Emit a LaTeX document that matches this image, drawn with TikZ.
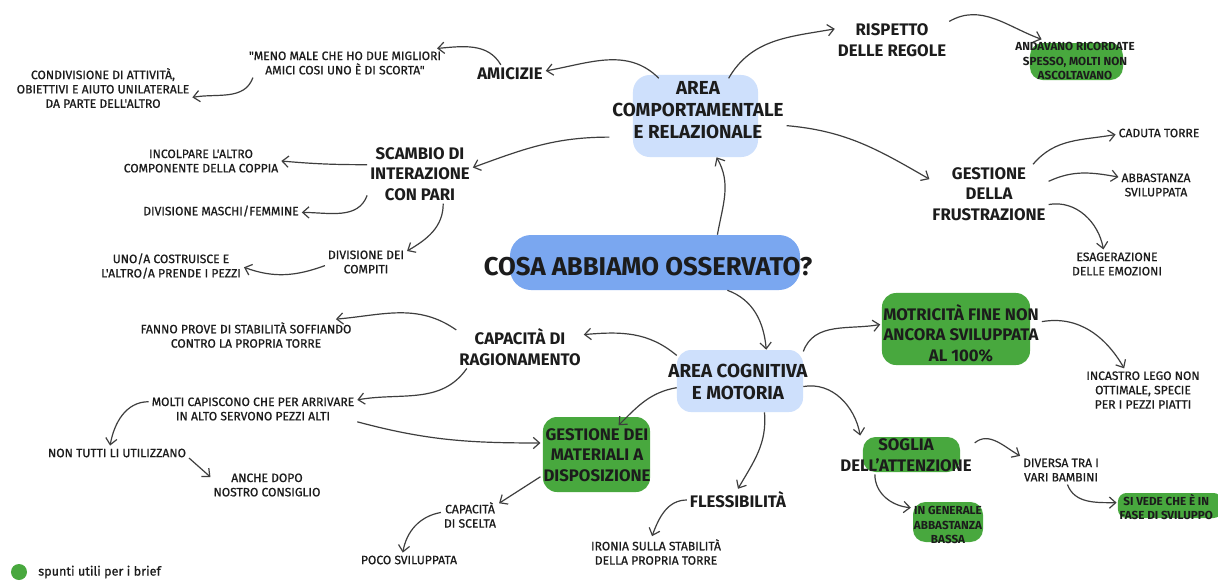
\documentclass[tikz,border=0pt]{standalone}
\usepackage{fontspec}
\setmainfont{Fira Sans}
\newfontfamily\handfont{Fira Sans}[FakeBold=0.8]
\usetikzlibrary{arrows.meta}
\definecolor{ink}{RGB}{28,28,28}
\definecolor{wire}{RGB}{62,62,62}
\definecolor{paleblue}{RGB}{206,224,252}
\definecolor{mainblue}{RGB}{122,167,240}
\definecolor{leafgreen}{RGB}{72,168,62}
\tikzset{
  blob/.style={rectangle, rounded corners=9pt, inner sep=0pt},
  titletxt/.style={text=ink, font=\bfseries\fontsize{18.3}{20}\selectfont, inner sep=2pt},
  areatxt/.style={text=ink, align=center, font=\bfseries\fontsize{13.4}{15.6}\selectfont, inner sep=2pt},
  midtxt/.style={text=ink, align=center, font=\bfseries\fontsize{11.9}{14.6}\selectfont, inner sep=2pt},
  smalltxt/.style={text=ink, align=center, font=\handfont\fontsize{8.6}{10.2}\selectfont, inner sep=2pt},
  greentxt/.style={smalltxt, font=\bfseries\fontsize{8.3}{10.2}\selectfont},
  arr/.style={draw=wire, line width=0.85pt, -{Straight Barb[length=4.5pt,width=8pt]}},
}

\begin{document}
\begin{tikzpicture}[x=0.025cm, y=0.025cm]
    \fill[white] (0,0) rectangle (1218,-581);
    \useasboundingbox (0,0) rectangle (1218,-581);

    \node[blob, fill=mainblue, rounded corners=15pt, minimum width=7.25cm, minimum height=1.375cm] (titleblob) at (655,-262.5) {};
    \node[blob, fill=paleblue, rounded corners=12pt, minimum width=3.125cm, minimum height=2.05cm] (compblob) at (695.5,-116) {};
    \node[blob, fill=paleblue, rounded corners=10pt, minimum width=3.15cm, minimum height=1.55cm] (cogblob) at (740,-381) {};
    \node[blob, fill=leafgreen, minimum width=2.325cm, minimum height=0.925cm] (andavanobg) at (1076.5,-61.5) {};
    \node[blob, fill=leafgreen, rounded corners=10pt, minimum width=2.675cm, minimum height=1.875cm] (gestmatbg) at (596.5,-454.5) {};
    \node[blob, fill=leafgreen, rounded corners=10pt, minimum width=3.7cm, minimum height=1.8cm] (motricbg) at (956,-329) {};
    \node[blob, fill=leafgreen, minimum width=2.425cm, minimum height=0.875cm] (sogliabg) at (911.5,-454.5) {};
    \node[blob, fill=leafgreen, minimum width=1.75cm, minimum height=1cm] (generalebg) at (948,-522) {};
    \node[blob, fill=leafgreen, rounded corners=6pt, minimum width=2.6cm, minimum height=0.625cm] (sivedebg) at (1170,-505.5) {};

    \node[titletxt] (title) at (648,-267) {COSA ABBIAMO OSSERVATO?};
    \node[areatxt] (comp) at (698,-110) {AREA\\COMPORTAMENTALE\\E RELAZIONALE};
    \node[areatxt] (cog) at (738,-382) {AREA COGNITIVA\\E MOTORIA};

    \node[midtxt] (amicizie) at (510,-74) {AMICIZIE};
    \node[smalltxt] (quote) at (345,-63) {"MENO MALE CHE HO DUE MIGLIORI\\AMICI COSI UNO È DI SCORTA"};
    \node[smalltxt] (condiv) at (103,-88) {CONDIVISIONE DI ATTIVITÀ,\\OBIETTIVI E AIUTO UNILATERALE\\DA PARTE DELL'ALTRO};
    \node[midtxt] (rispetto) at (892,-40) {RISPETTO\\DELLE REGOLE};
    \node[greentxt] (andavano) at (1075,-61) {ANDAVANO RICORDATE\\SPESSO, MOLTI NON\\ASCOLTAVANO};
    \node[midtxt] (scambio) at (420,-174) {SCAMBIO DI\\INTERAZIONE\\CON PARI};
    \node[smalltxt] (incolpare) at (201,-161) {INCOLPARE L'ALTRO\\COMPONENTE DELLA COPPIA};
    \node[smalltxt] (divmf) at (221,-211) {DIVISIONE MASCHI/FEMMINE};
    \node[smalltxt] (divcompiti) at (366,-262) {DIVISIONE DEI\\COMPITI};
    \node[smalltxt] (uno) at (171,-266) {UNO/A COSTRUISCE E\\L'ALTRO/A PRENDE I PEZZI};
    \node[midtxt] (gestfrust) at (989,-194) {GESTIONE\\DELLA\\FRUSTRAZIONE};
    \node[smalltxt] (caduta) at (1159,-133) {CADUTA TORRE};
    \node[smalltxt] (abbsvil) at (1156,-185) {ABBASTANZA\\SVILUPPATA};
    \node[smalltxt] (esag) at (1117,-264) {ESAGERAZIONE\\DELLE EMOZIONI};

    \node[midtxt] (capragion) at (520,-347) {CAPACITÀ DI\\RAGIONAMENTO};
    \node[smalltxt] (fanno) at (246,-335) {FANNO PROVE DI STABILITÀ SOFFIANDO\\CONTRO LA PROPRIA TORRE};
    \node[smalltxt] (molti) at (253,-409) {MOLTI CAPISCONO CHE PER ARRIVARE\\IN ALTO SERVONO PEZZI ALTI};
    \node[smalltxt] (nontutti) at (117,-453) {NON TUTTI LI UTILIZZANO};
    \node[smalltxt] (anchedopo) at (267,-485) {ANCHE DOPO\\NOSTRO CONSIGLIO};
    \node[midtxt] (gestmat) at (597,-455) {GESTIONE DEI\\MATERIALI A\\DISPOSIZIONE};
    \node[smalltxt] (capscelta) at (470,-515) {CAPACITÀ\\DI SCELTA};
    \node[smalltxt] (poco) at (409,-560) {POCO SVILUPPATA};
    \node[midtxt] (flessib) at (738,-500) {FLESSIBILITÀ};
    \node[smalltxt] (ironia) at (656,-552) {IRONIA SULLA STABILITÀ\\DELLA PROPRIA TORRE};
    \node[midtxt] (motric) at (961,-333) {MOTRICITÀ FINE NON\\ANCORA SVILUPPATA\\AL 100\%};
    \node[smalltxt] (incastro) at (1143,-390) {INCASTRO LEGO NON\\OTTIMALE, SPECIE\\PER I PEZZI PIATTI};
    \node[midtxt] (soglia) at (906,-455) {SOGLIA\\DELL'ATTENZIONE};
    \node[greentxt] (ingenerale) at (948,-525) {IN GENERALE\\ABBASTANZA\\BASSA};
    \node[smalltxt] (diversa) at (1061,-470) {DIVERSA TRA I\\VARI BAMBINI};
    \node[greentxt, anchor=east] (sivede) at (1216,-507) {SI VEDE CHE È IN\\FASE DI SVILUPPO};

    \node[circle, fill=leafgreen, inner sep=0pt, minimum size=0.4cm] (legdot) at (19,-572) {};
    \node[anchor=west, text=ink, font=\handfont\fontsize{9}{11}\selectfont, inner sep=0pt] (legend) at (38,-572) {spunti utili per i brief};

    % area comportamentale e relazionale
    \draw[arr] (comp.141) to[out=135,in=10] (amicizie.5);
    \draw[arr] (amicizie.135) to[out=120,in=5] (quote.9);
    \draw[arr] (quote.189) to[out=250,in=10] (condiv.354);
    \draw[arr] (comp.46) to[out=60,in=190] (rispetto.169);
    \draw[arr] (rispetto.18) to[out=30,in=160] (andavano.147);
    \draw[arr] (comp.350) to[out=-5,in=150] (gestfrust.166);
    \draw[arr] (gestfrust.34) to[out=50,in=190] (caduta.182);
    \draw[arr] (gestfrust.12) to[out=25,in=170] (abbsvil.168);
    \draw[arr] (gestfrust.350) to[out=10,in=100] (esag.133);
    \draw[arr] (comp.197) to[out=180,in=20] (scambio.7);
    \draw[arr] (scambio.170) to[out=180,in=-5] (incolpare.0);
    \draw[arr] (scambio.202) to[out=250,in=0] (divmf.359);
    \draw[arr] (scambio.308) to[out=270,in=30] (divcompiti.15);
    \draw[arr] (divcompiti.185) to[out=200,in=340] (uno.359);

    \draw[arr] (titleblob.24) to[out=80,in=300] (compblob.297);
    \draw[arr] (titleblob.339) to[out=-20,in=95] (cogblob.50);

    % area cognitiva e motoria
    \draw[arr] (cogblob.158) to[out=140,in=5] (capragion.11);
    \draw[arr] (capragion.165) to[out=145,in=5] (fanno.10);
    \draw[arr] (capragion.202) to[out=235,in=10] (molti.5);
    \draw[arr] (molti.176) to[out=180,in=80] (nontutti.133);
    \draw[arr] (nontutti.356) -- (anchedopo.172);
    \draw[arr] (molti.353) to[out=-15,in=180] (gestmat.168);
    \draw[arr] (cogblob.186) to[out=190,in=45] (gestmat.54);
    \draw[arr] (gestmat.201) -- (capscelta.22);
    \draw[arr] (capscelta.175) to[out=190,in=80] (poco.130);
    \draw[arr] (cogblob.308) to[out=-85,in=60] (flessib.90);
    \draw[arr] (flessib.180) to[out=180,in=70] (ironia.104);
    \draw[arr] (cogblob.25) to[out=70,in=190] (motric.174);
    \draw[arr] (motric.8) to[out=10,in=120] (incastro.131);
    \draw[arr] (cogblob.355) to[out=10,in=100] (soglia.157);
    \draw[arr] (soglia.10) to[out=40,in=150] (diversa.161);
    \draw[arr] (soglia.212) to[out=-90,in=175] (ingenerale.155);
    \draw[arr] (diversa.294) to[out=-70,in=180] (sivede.175);
\end{tikzpicture}
\end{document}
